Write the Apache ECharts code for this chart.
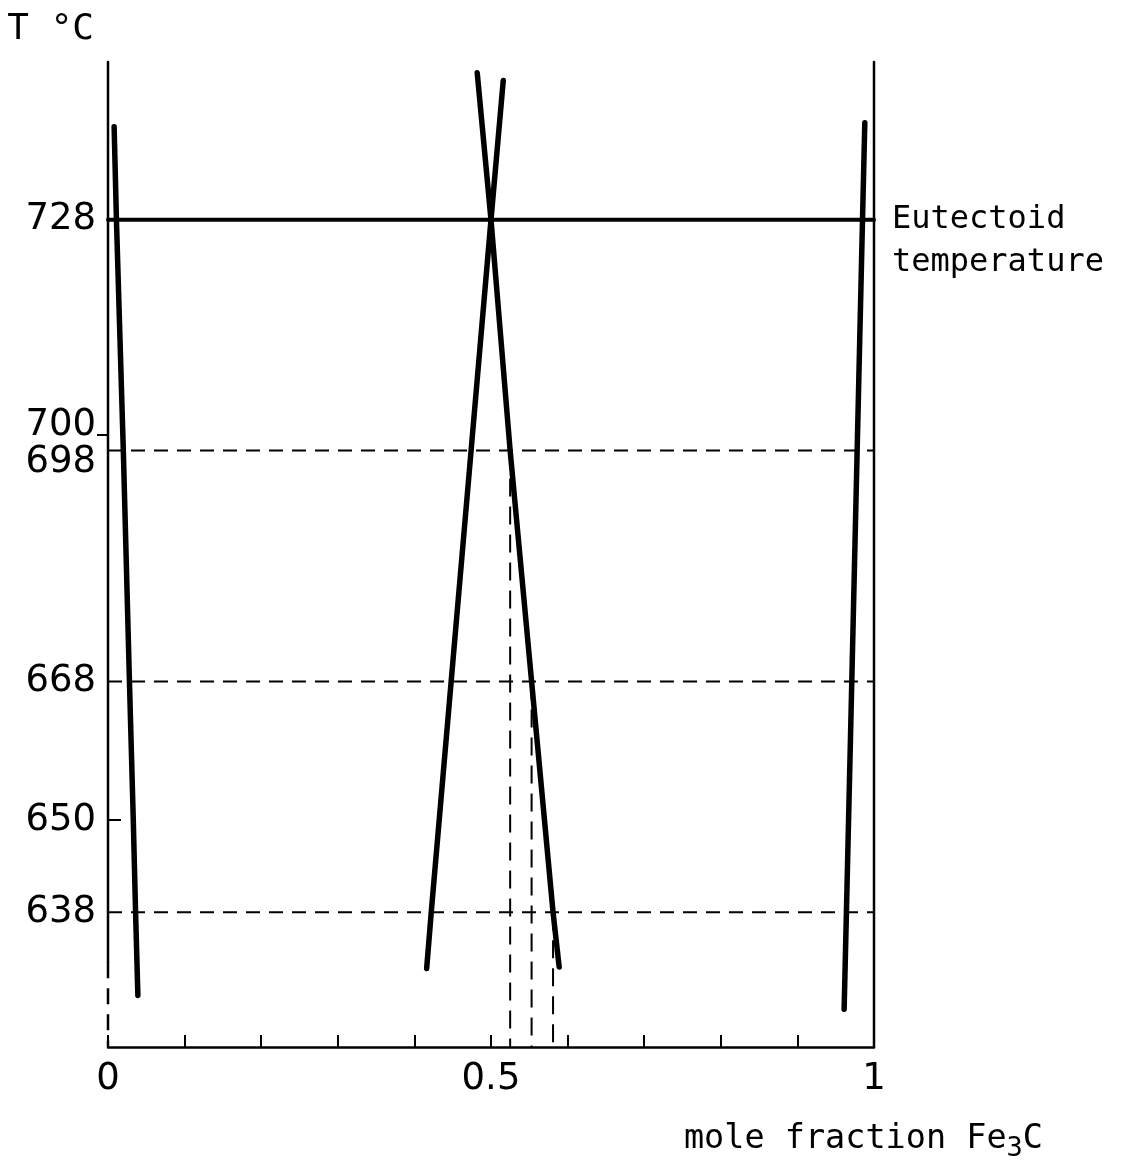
<!DOCTYPE html>
<html>
<head>
<meta charset="utf-8">
<title>Fe–Fe3C eutectoid</title>
<script src="https://cdn.jsdelivr.net/npm/echarts@6/dist/echarts.min.js"></script>
<style>
  html, body { margin: 0; padding: 0; background: #fff; }
  #chart { width: 1133px; height: 1166px; }
</style>
</head>
<body>
<div id="chart"></div>
<script>
// Temperature range (°C) and composition range (mole fraction Fe3C)
const tMin = 620.5, tMax = 748.5;
const xMin = 0, xMax = 1;

// Reference temperatures
const eutectoidT = 728;
const isothermTemps = [698, 668, 638];
const leftAxisBreakT = 631.5;

// Tick labels and tick marks
const yLabelValues = [728, 700, 698, 668, 650, 638];
const yTicksInside = [650];
const yTicksOutside = [700];
const xLabelValues = [0, 0.5, 1];

// Phase boundaries as [mole fraction, T]
const ferriteBoundary   = [[0.008, 740.1], [0.011, 728], [0.020, 698], [0.028, 668], [0.033, 650], [0.036, 638], [0.039, 627.2]];
const austeniteLeft     = [[0.482, 747.1], [0.500, 728], [0.474, 698], [0.422, 638], [0.416, 630.7]];
const austeniteRight    = [[0.516, 746.1], [0.500, 728], [0.525, 698], [0.553, 668], [0.581, 638], [0.589, 630.9]];
const cementiteBoundary = [[0.988, 740.6], [0.985, 728], [0.978, 698], [0.971, 668], [0.964, 638], [0.961, 625.4]];

// Compositions on the right austenite boundary at each isotherm
const dropCompositions = isothermTemps.map(t => austeniteRight.find(p => p[1] === t)[0]);

const INK = '#000';
const NUM_FONT = 'DejaVu Sans';
const TEXT_FONT = 'DejaVu Sans Mono';

function solid(data, width) {
  return {
    type: 'line', data, symbol: 'none', clip: false, silent: true,
    lineStyle: { color: INK, width, cap: 'round', join: 'round' }
  };
}
function dashed(data, dash, width) {
  return {
    type: 'line', data, symbol: 'none', clip: false, silent: true,
    lineStyle: { color: INK, width, type: dash }
  };
}

const series = [];

// frame: left edge (solid, broken to dashed near the bottom) and right edge
series.push(solid([[xMin, tMax], [xMin, leftAxisBreakT]], 2.5));
series.push(dashed([[xMin, leftAxisBreakT], [xMin, tMin]], [16, 10], 2.5));
series.push(solid([[xMax, tMax], [xMax, tMin]], 2.5));

// isotherms
isothermTemps.forEach(t => series.push(dashed([[xMin, t], [xMax, t]], [14, 9], 2)));

// drop lines from the right boundary to the composition axis
dropCompositions.forEach((x, i) => series.push(dashed([[x, isothermTemps[i]], [x, tMin]], [18, 10], 2)));

// eutectoid line with its label
const eut = solid([[xMin, eutectoidT], [xMax, eutectoidT]], 4);
eut.endLabel = {
  show: true,
  formatter: 'Eutectoid\ntemperature',
  distance: 18,
  offset: [0, 21],
  color: INK,
  fontFamily: TEXT_FONT,
  fontSize: 32,
  lineHeight: 43
};
series.push(eut);

// phase boundaries
[ferriteBoundary, austeniteLeft, austeniteRight, cementiteBoundary].forEach(d => {
  const s = solid(d, 5.5);
  s.z = 3;
  series.push(s);
});

const chart = echarts.init(document.getElementById('chart'), null, { renderer: 'canvas' });
chart.setOption({
  animation: false,
  backgroundColor: '#fff',
  grid: { left: 108, right: 259, top: 62, bottom: 119, outerBoundsMode: 'none' },
  xAxis: {
    type: 'value', min: xMin, max: xMax, interval: 0.1, position: 'bottom',
    axisLine: { show: true, onZero: false, lineStyle: { color: INK, width: 2.5 } },
    axisTick: { show: true, inside: true, length: 12, lineStyle: { color: INK, width: 2 } },
    splitLine: { show: false },
    axisLabel: {
      customValues: xLabelValues, margin: 14, color: INK,
      fontFamily: NUM_FONT, fontSize: 37,
      formatter: v => String(v)
    },
    name: '{t|mole fraction Fe}{s|3}{t|C}',
    nameLocation: 'end',
    nameGap: 169,
    nameTextStyle: {
      align: 'right', verticalAlign: 'middle', padding: [184, 0, 0, 0],
      rich: {
        t: { fontFamily: TEXT_FONT, fontSize: 33.5, color: INK },
        s: { fontFamily: TEXT_FONT, fontSize: 27, color: INK, padding: [20, 0, 0, 0] }
      }
    }
  },
  yAxis: [{
    type: 'value', min: tMin, max: tMax, position: 'left',
    axisLine: { show: false },
    splitLine: { show: false },
    axisTick: { show: true, inside: true, length: 13, customValues: yTicksInside, lineStyle: { color: INK, width: 2 } },
    axisLabel: {
      customValues: yLabelValues, margin: 12, color: INK,
      fontFamily: NUM_FONT, fontSize: 37,
      formatter: v => v === 700 ? '{up|700}' : (v === 698 ? '{dn|698}' : String(v)),
      rich: {
        up: { fontFamily: NUM_FONT, fontSize: 37, color: INK, padding: [0, 0, 20, 0] },
        dn: { fontFamily: NUM_FONT, fontSize: 37, color: INK, padding: [24, 0, 0, 0] }
      }
    },
    name: 'T °C',
    nameLocation: 'end',
    nameGap: 14,
    nameTextStyle: {
      fontFamily: TEXT_FONT, fontSize: 36, color: INK,
      align: 'right', padding: [0, 14, 0, 0]
    }
  }, {
    type: 'value', min: tMin, max: tMax, position: 'left',
    axisLine: { show: false },
    splitLine: { show: false },
    axisLabel: { show: false },
    axisTick: { show: true, inside: false, length: 11, customValues: yTicksOutside, lineStyle: { color: INK, width: 2 } }
  }],
  series
});
</script>
</body>
</html>
